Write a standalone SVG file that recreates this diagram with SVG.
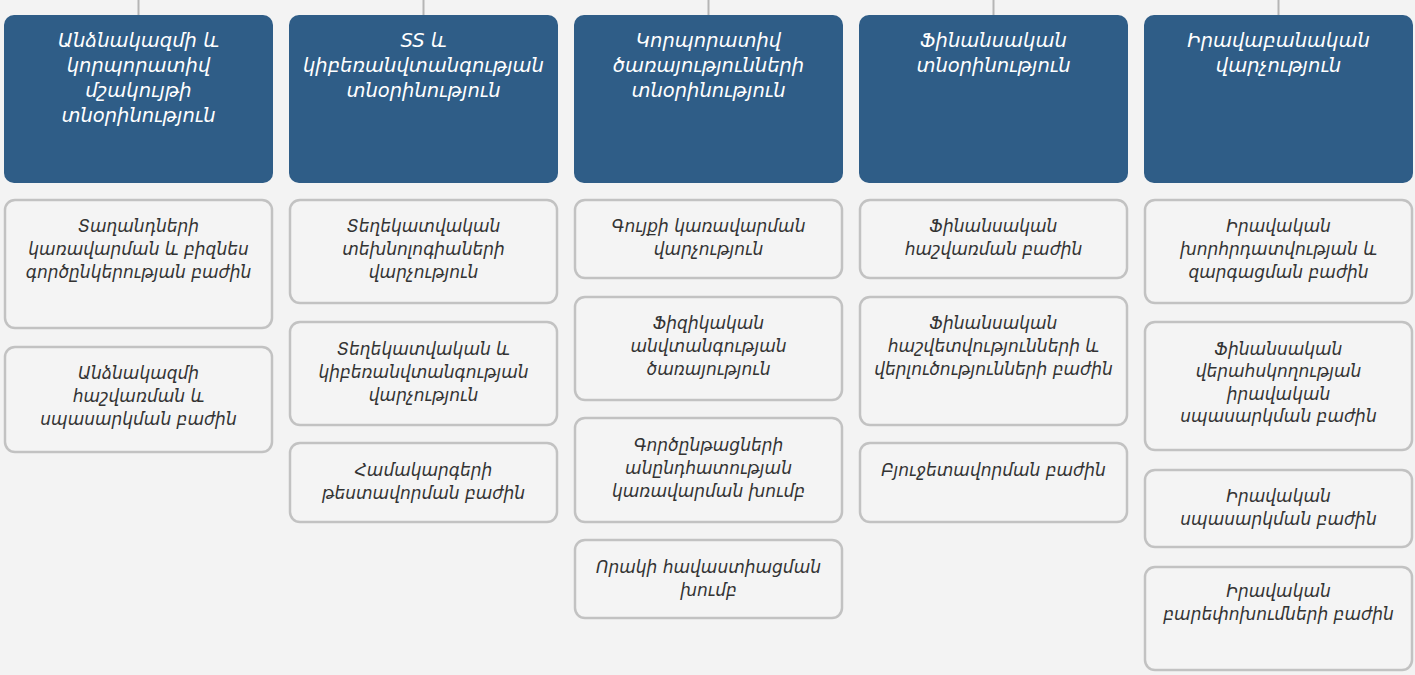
<svg xmlns="http://www.w3.org/2000/svg" width="1415" height="675" viewBox="0 0 1415 675">
<style>
.bg{fill:#f3f3f3}
.hd{fill:#2f5d87}
.bx{fill:#f4f4f4;stroke:#c2c2c2;stroke-width:2.5}
.ht{font-family:"DejaVu Sans",sans-serif;font-style:italic;font-size:19.5px;fill:#ffffff;text-anchor:middle}
.ct{font-family:"DejaVu Sans",sans-serif;font-style:italic;font-size:17px;fill:#333333;text-anchor:middle}
.cn{stroke:#b5b5b5;stroke-width:2;fill:none}
</style>
<rect class="bg" x="0" y="0" width="1415" height="675"/>
<g id="connectors">
<line class="cn" x1="138.5" y1="0" x2="138.5" y2="15"/>
<line class="cn" x1="423.5" y1="0" x2="423.5" y2="15"/>
<line class="cn" x1="708.5" y1="0" x2="708.5" y2="15"/>
<line class="cn" x1="993.5" y1="0" x2="993.5" y2="15"/>
<line class="cn" x1="1278.5" y1="0" x2="1278.5" y2="15"/>
</g>
<g id="h1"><rect class="hd" x="4" y="15" width="269" height="168" rx="10"/>
<text class="ht"><tspan x="138.5" y="47">Անձնակազմի և</tspan><tspan x="138.5" y="72">կորպորատիվ</tspan><tspan x="138.5" y="97">մշակույթի</tspan><tspan x="138.5" y="122">տնօրինություն</tspan></text></g>
<g id="h2"><rect class="hd" x="289" y="15" width="269" height="168" rx="10"/>
<text class="ht"><tspan x="423.5" y="47">SS և</tspan><tspan x="423.5" y="72">կիբեռանվտանգության</tspan><tspan x="423.5" y="97">տնօրինություն</tspan></text></g>
<g id="h3"><rect class="hd" x="574" y="15" width="269" height="168" rx="10"/>
<text class="ht"><tspan x="708.5" y="47">Կորպորատիվ</tspan><tspan x="708.5" y="72">ծառայությունների</tspan><tspan x="708.5" y="97">տնօրինություն</tspan></text></g>
<g id="h4"><rect class="hd" x="859" y="15" width="269" height="168" rx="10"/>
<text class="ht"><tspan x="993.5" y="47">Ֆինանսական</tspan><tspan x="993.5" y="72">տնօրինություն</tspan></text></g>
<g id="h5"><rect class="hd" x="1144" y="15" width="269" height="168" rx="10"/>
<text class="ht"><tspan x="1278.5" y="47">Իրավաբանական</tspan><tspan x="1278.5" y="72">վարչություն</tspan></text></g>

<g id="c1a"><rect class="bx" x="5" y="200" width="267" height="128" rx="10"/>
<text class="ct"><tspan x="138.5" y="232">Տաղանդների</tspan><tspan x="138.5" y="255">կառավարման և բիզնես</tspan><tspan x="138.5" y="278">գործընկերության բաժին</tspan></text></g>
<g id="c1b"><rect class="bx" x="5" y="347" width="267" height="105" rx="10"/>
<text class="ct"><tspan x="138.5" y="379">Անձնակազմի</tspan><tspan x="138.5" y="402">հաշվառման և</tspan><tspan x="138.5" y="425">սպասարկման բաժին</tspan></text></g>

<g id="c2a"><rect class="bx" x="290" y="200" width="267" height="103" rx="10"/>
<text class="ct"><tspan x="423.5" y="232">Տեղեկատվական</tspan><tspan x="423.5" y="255">տեխնոլոգիաների</tspan><tspan x="423.5" y="278">վարչություն</tspan></text></g>
<g id="c2b"><rect class="bx" x="290" y="322" width="267" height="103" rx="10"/>
<text class="ct"><tspan x="423.5" y="355">Տեղեկատվական և</tspan><tspan x="423.5" y="378">կիբեռանվտանգության</tspan><tspan x="423.5" y="401">վարչություն</tspan></text></g>
<g id="c2c"><rect class="bx" x="290" y="443" width="267" height="79" rx="10"/>
<text class="ct"><tspan x="423.5" y="476">Համակարգերի</tspan><tspan x="423.5" y="499">թեստավորման բաժին</tspan></text></g>

<g id="c3a"><rect class="bx" x="575" y="200" width="267" height="78" rx="10"/>
<text class="ct"><tspan x="708.5" y="232">Գույքի կառավարման</tspan><tspan x="708.5" y="255">վարչություն</tspan></text></g>
<g id="c3b"><rect class="bx" x="575" y="297" width="267" height="103" rx="10"/>
<text class="ct"><tspan x="708.5" y="329">Ֆիզիկական</tspan><tspan x="708.5" y="352">անվտանգության</tspan><tspan x="708.5" y="375">ծառայություն</tspan></text></g>
<g id="c3c"><rect class="bx" x="575" y="418" width="267" height="104" rx="10"/>
<text class="ct"><tspan x="708.5" y="451">Գործընթացների</tspan><tspan x="708.5" y="474">անընդհատության</tspan><tspan x="708.5" y="497">կառավարման խումբ</tspan></text></g>
<g id="c3d"><rect class="bx" x="575" y="540" width="267" height="78" rx="10"/>
<text class="ct"><tspan x="708.5" y="573">Որակի հավաստիացման</tspan><tspan x="708.5" y="596">խումբ</tspan></text></g>

<g id="c4a"><rect class="bx" x="860" y="200" width="267" height="78" rx="10"/>
<text class="ct"><tspan x="993.5" y="232">Ֆինանսական</tspan><tspan x="993.5" y="255">հաշվառման բաժին</tspan></text></g>
<g id="c4b"><rect class="bx" x="860" y="297" width="267" height="128" rx="10"/>
<text class="ct"><tspan x="993.5" y="329">Ֆինանսական</tspan><tspan x="993.5" y="352">հաշվետվությունների և</tspan><tspan x="993.5" y="375">վերլուծությունների բաժին</tspan></text></g>
<g id="c4c"><rect class="bx" x="860" y="443" width="267" height="79" rx="10"/>
<text class="ct"><tspan x="993.5" y="476">Բյուջետավորման բաժին</tspan></text></g>

<g id="c5a"><rect class="bx" x="1145" y="200" width="267" height="103" rx="10"/>
<text class="ct"><tspan x="1278.5" y="232">Իրավական</tspan><tspan x="1278.5" y="255">խորհրդատվության և</tspan><tspan x="1278.5" y="278">զարգացման բաժին</tspan></text></g>
<g id="c5b"><rect class="bx" x="1145" y="322" width="267" height="128" rx="10"/>
<text class="ct"><tspan x="1278.5" y="355">Ֆինանսական</tspan><tspan x="1278.5" y="377">վերահսկողության</tspan><tspan x="1278.5" y="400">իրավական</tspan><tspan x="1278.5" y="422">սպասարկման բաժին</tspan></text></g>
<g id="c5c"><rect class="bx" x="1145" y="470" width="267" height="77" rx="10"/>
<text class="ct"><tspan x="1278.5" y="502">Իրավական</tspan><tspan x="1278.5" y="525">սպասարկման բաժին</tspan></text></g>
<g id="c5d"><rect class="bx" x="1145" y="567" width="267" height="103" rx="10"/>
<text class="ct"><tspan x="1278.5" y="597">Իրավական</tspan><tspan x="1278.5" y="620">բարեփոխումների բաժին</tspan></text></g>
</svg>
